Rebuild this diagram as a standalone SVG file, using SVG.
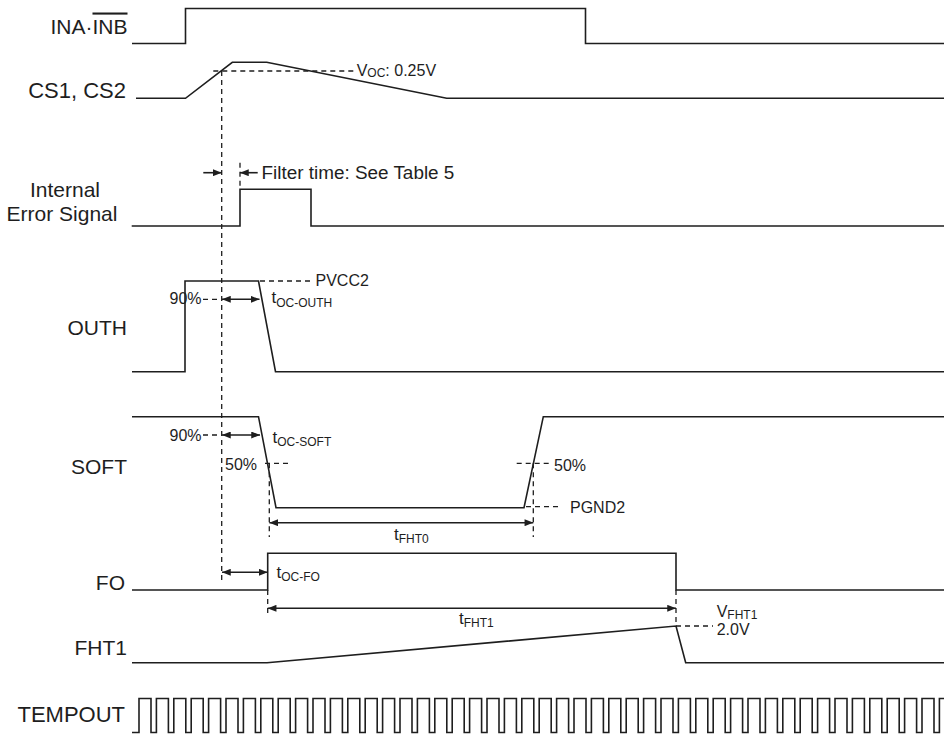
<svg xmlns="http://www.w3.org/2000/svg" width="944" height="734" viewBox="0 0 944 734">
<style>
.w{fill:none;stroke:#1e1e1e;stroke-width:1.6;stroke-linejoin:miter}
.d{fill:none;stroke:#1e1e1e;stroke-width:1.3;stroke-dasharray:5 4}
.a{fill:none;stroke:#1e1e1e;stroke-width:1.6}
.L{font-family:"Liberation Sans",Arial,sans-serif;font-size:21px;fill:#1e1e1e}
.s{font-family:"Liberation Sans",Arial,sans-serif;font-size:16px;fill:#1e1e1e}
.t{font-family:"Liberation Sans",Arial,sans-serif;font-size:17px;fill:#1e1e1e}
.sub{font-size:12px}
</style>
<defs>
<marker id="ah" viewBox="0 0 10 8" refX="10" refY="4" markerWidth="9" markerHeight="7" markerUnits="userSpaceOnUse" orient="auto-start-reverse"><path d="M0,0L10,4L0,8z" fill="#1e1e1e"/></marker>
</defs>
<rect width="944" height="734" fill="#fff"/>

<g id="ina">
<path class="w" d="M132,43.5 H185.5 V8.5 H585.5 V43.5 H944"/>
<text class="L" x="127.5" y="33.5" text-anchor="end">INA·<tspan style="text-decoration:overline">INB</tspan></text>
</g>
<g id="cs">
<path class="w" d="M136,98.3 H185.5 L232.3,62.3 H266.7 L446.7,98.3 H944"/>
<text class="L" x="126" y="97.7" text-anchor="end" style="font-size:22px">CS1, CS2</text>
<text class="s" x="356.7" y="76">V<tspan class="sub" dy="1">OC</tspan><tspan dy="-1">: 0.25V</tspan></text>
</g>
<g id="err">
<path class="w" d="M131.7,226 H240 V189.3 H311 V226 H944"/>
<text class="L" x="65" y="197" text-anchor="middle">Internal</text>
<text class="L" x="62" y="221" text-anchor="middle">Error Signal</text>
<text class="L" x="261.5" y="179.3" style="font-size:18.9px">Filter time: See Table 5</text>
</g>
<g id="outh">
<path class="w" d="M132,371.7 H185 V281 H258.5 L275.5,371.7 H944"/>
<text class="L" x="127" y="335" text-anchor="end">OUTH</text>
<text class="s" x="315.5" y="285.5">PVCC2</text>
<text class="s" x="169.5" y="304">90%</text>
<text class="t" x="271.5" y="303.3">t<tspan class="sub" dy="3.4">OC-OUTH</tspan></text>
</g>
<g id="soft">
<path class="w" d="M132,416.7 H258.5 L276,507.7 H524 L543.3,416.7 H944"/>
<text class="L" x="127" y="474" text-anchor="end">SOFT</text>
<text class="s" x="169.5" y="440.7">90%</text>
<text class="t" x="272.5" y="442.7">t<tspan class="sub" dy="3.4">OC-SOFT</tspan></text>
<text class="s" x="225" y="470">50%</text>
<text class="s" x="554" y="470.7">50%</text>
<text class="s" x="570" y="512.7">PGND2</text>
<text class="t" x="394" y="540">t<tspan class="sub" dy="3.4">FHT0</tspan></text>
</g>
<g id="fo">
<path class="w" d="M132,590 H267.7 V553.3 H676 V590 H944"/>
<text class="L" x="125" y="590" text-anchor="end">FO</text>
<text class="t" x="276.5" y="578">t<tspan class="sub" dy="3.4">OC-FO</tspan></text>
<text class="t" x="459" y="624">t<tspan class="sub" dy="3.4">FHT1</tspan></text>
</g>
<g id="fht1">
<path class="w" d="M132,662.7 H267 L676,626 L685.7,662.7 H944"/>
<text class="L" x="127" y="655" text-anchor="end">FHT1</text>
<text class="s" x="716.7" y="616.7">V<tspan class="sub" dy="2">FHT1</tspan></text>
<text class="s" x="716.7" y="635">2.0V</text>
</g>
<g id="tempout">
<path class="w" d="M132,732.5 h7 v-34h12v34h5.4 v-34h12v34h5.4 v-34h12v34h5.4 v-34h12v34h5.4 v-34h12v34h5.4 v-34h12v34h5.4 v-34h12v34h5.4 v-34h12v34h5.4 v-34h12v34h5.4 v-34h12v34h5.4 v-34h12v34h5.4 v-34h12v34h5.4 v-34h12v34h5.4 v-34h12v34h5.4 v-34h12v34h5.4 v-34h12v34h5.4 v-34h12v34h5.4 v-34h12v34h5.4 v-34h12v34h5.4 v-34h12v34h5.4 v-34h12v34h5.4 v-34h12v34h5.4 v-34h12v34h5.4 v-34h12v34h5.4 v-34h12v34h5.4 v-34h12v34h5.4 v-34h12v34h5.4 v-34h12v34h5.4 v-34h12v34h5.4 v-34h12v34h5.4 v-34h12v34h5.4 v-34h12v34h5.4 v-34h12v34h5.4 v-34h12v34h5.4 v-34h12v34h5.4 v-34h12v34h5.4 v-34h12v34h5.4 v-34h12v34h5.4 v-34h12v34h5.4 v-34h12v34h5.4 v-34h12v34h5.4 v-34h12v34h5.4 v-34h12v34h5.4 v-34h12v34h5.4 v-34h12v34h5.4 v-34h12v34h5.4 v-34h4.6"/>
<text class="L" x="125" y="721.7" text-anchor="end" style="font-size:22px">TEMPOUT</text>
</g>

<g id="connectors">
<path class="d" d="M221.7,71 V583"/>
<path class="d" d="M213.3,71 H356.7"/>
<path class="d" d="M240,162.7 V189"/>
<path class="d" d="M260,281 H312"/>
<path class="d" d="M203,299.3 H221"/>
<path class="d" d="M203,435 H221"/>
<path class="d" d="M265,463.3 H290"/>
<path class="d" d="M269.3,463.3 V537"/>
<path class="d" d="M516.7,463.3 H551.7"/>
<path class="d" d="M533.3,463.3 V537"/>
<path class="d" d="M526,506.7 H562"/>
<path class="d" d="M267.7,590 V617"/>
<path class="d" d="M676,590 V627"/>
<path class="d" d="M676,626 H713"/>
<line class="a" x1="203.3" y1="172.7" x2="221.7" y2="172.7" marker-end="url(#ah)"/>
<line class="a" x1="257.7" y1="172.7" x2="240" y2="172.7" marker-end="url(#ah)"/>
<line class="a" x1="222" y1="299.3" x2="259.5" y2="299.3" marker-start="url(#ah)" marker-end="url(#ah)"/>
<line class="a" x1="222" y1="435" x2="260" y2="435" marker-start="url(#ah)" marker-end="url(#ah)"/>
<line class="a" x1="269.3" y1="522.7" x2="533.3" y2="522.7" marker-start="url(#ah)" marker-end="url(#ah)"/>
<line class="a" x1="222" y1="572.3" x2="267.7" y2="572.3" marker-start="url(#ah)" marker-end="url(#ah)"/>
<line class="a" x1="267.7" y1="608.3" x2="676" y2="608.3" marker-start="url(#ah)" marker-end="url(#ah)"/>
</g>
</svg>
